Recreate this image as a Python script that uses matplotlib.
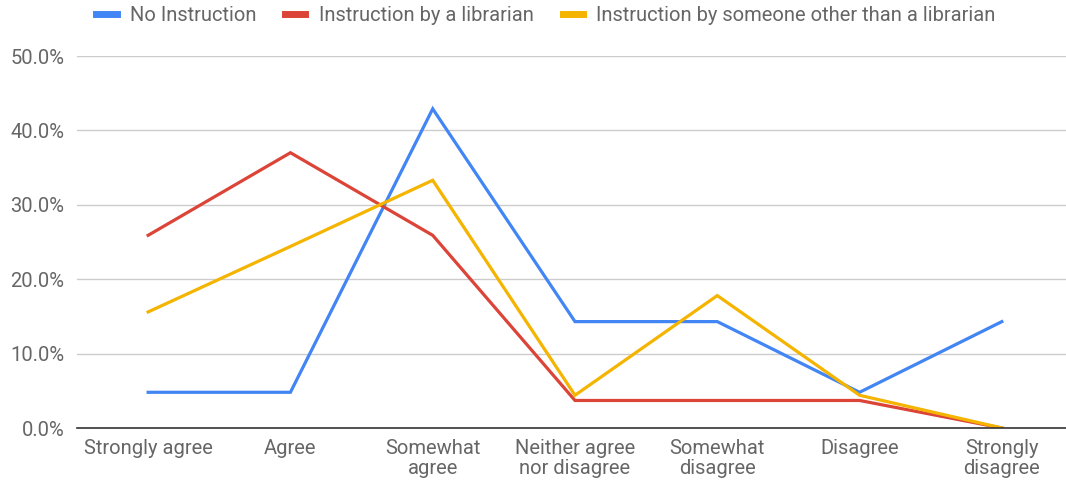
import matplotlib.pyplot as plt
from matplotlib.ticker import PercentFormatter

plt.rcParams['font.family'] = ['Roboto', 'DejaVu Sans']

# Survey responses (share of respondents, %)
categories = ['Strongly agree', 'Agree', 'Somewhat\nagree', 'Neither agree\nnor disagree',
              'Somewhat\ndisagree', 'Disagree', 'Strongly\ndisagree']
no_instruction = [4.8, 4.8, 42.9, 14.3, 14.3, 4.8, 14.3]
by_librarian = [25.9, 37.0, 25.9, 3.7, 3.7, 3.7, 0.0]
by_other = [15.6, 24.4, 33.3, 4.4, 17.8, 4.4, 0.0]

series = [
    ('No Instruction', no_instruction, '#4285F4'),
    ('Instruction by a librarian', by_librarian, '#DB4437'),
    ('Instruction by someone other than a librarian', by_other, '#F4B400'),
]

fig = plt.figure(figsize=(10.66, 4.8), dpi=100)
# plot area runs slightly past the right edge of the figure
ax = fig.add_axes([77 / 1066, 52 / 480, 996 / 1066, 372 / 480])

x = range(len(categories))
for label, vals, color in series:
    ax.plot(x, vals, color=color, linewidth=2.3, label=label, solid_joinstyle='miter')

ax.set_xlim(-0.5, len(categories) - 0.5)
ax.set_ylim(0, 50)
ax.set_yticks([0, 10, 20, 30, 40, 50])
ax.yaxis.set_major_formatter(PercentFormatter(decimals=1))
ax.set_xticks(list(x))
ax.set_xticklabels(categories, linespacing=1.05)

ax.grid(axis='y', color='#cccccc', linewidth=1)
ax.set_axisbelow(True)
for side in ['top', 'right', 'left']:
    ax.spines[side].set_visible(False)
ax.spines['bottom'].set_color('#333333')
ax.spines['bottom'].set_linewidth(1.2)
ax.tick_params(length=0, labelsize=14.5, labelcolor='#666666')
ax.tick_params(axis='y', pad=9)
ax.tick_params(axis='x', pad=8)

fig.legend(loc='upper center', bbox_to_anchor=(0.512, 1.026), ncol=3, frameon=False,
           fontsize=14.5, labelcolor='#666666', handlelength=1.0, handletextpad=0.65,
           columnspacing=1.45)
for line in fig.legends[0].get_lines():
    line.set_linewidth(5)

fig.savefig('out.png', dpi=100)
